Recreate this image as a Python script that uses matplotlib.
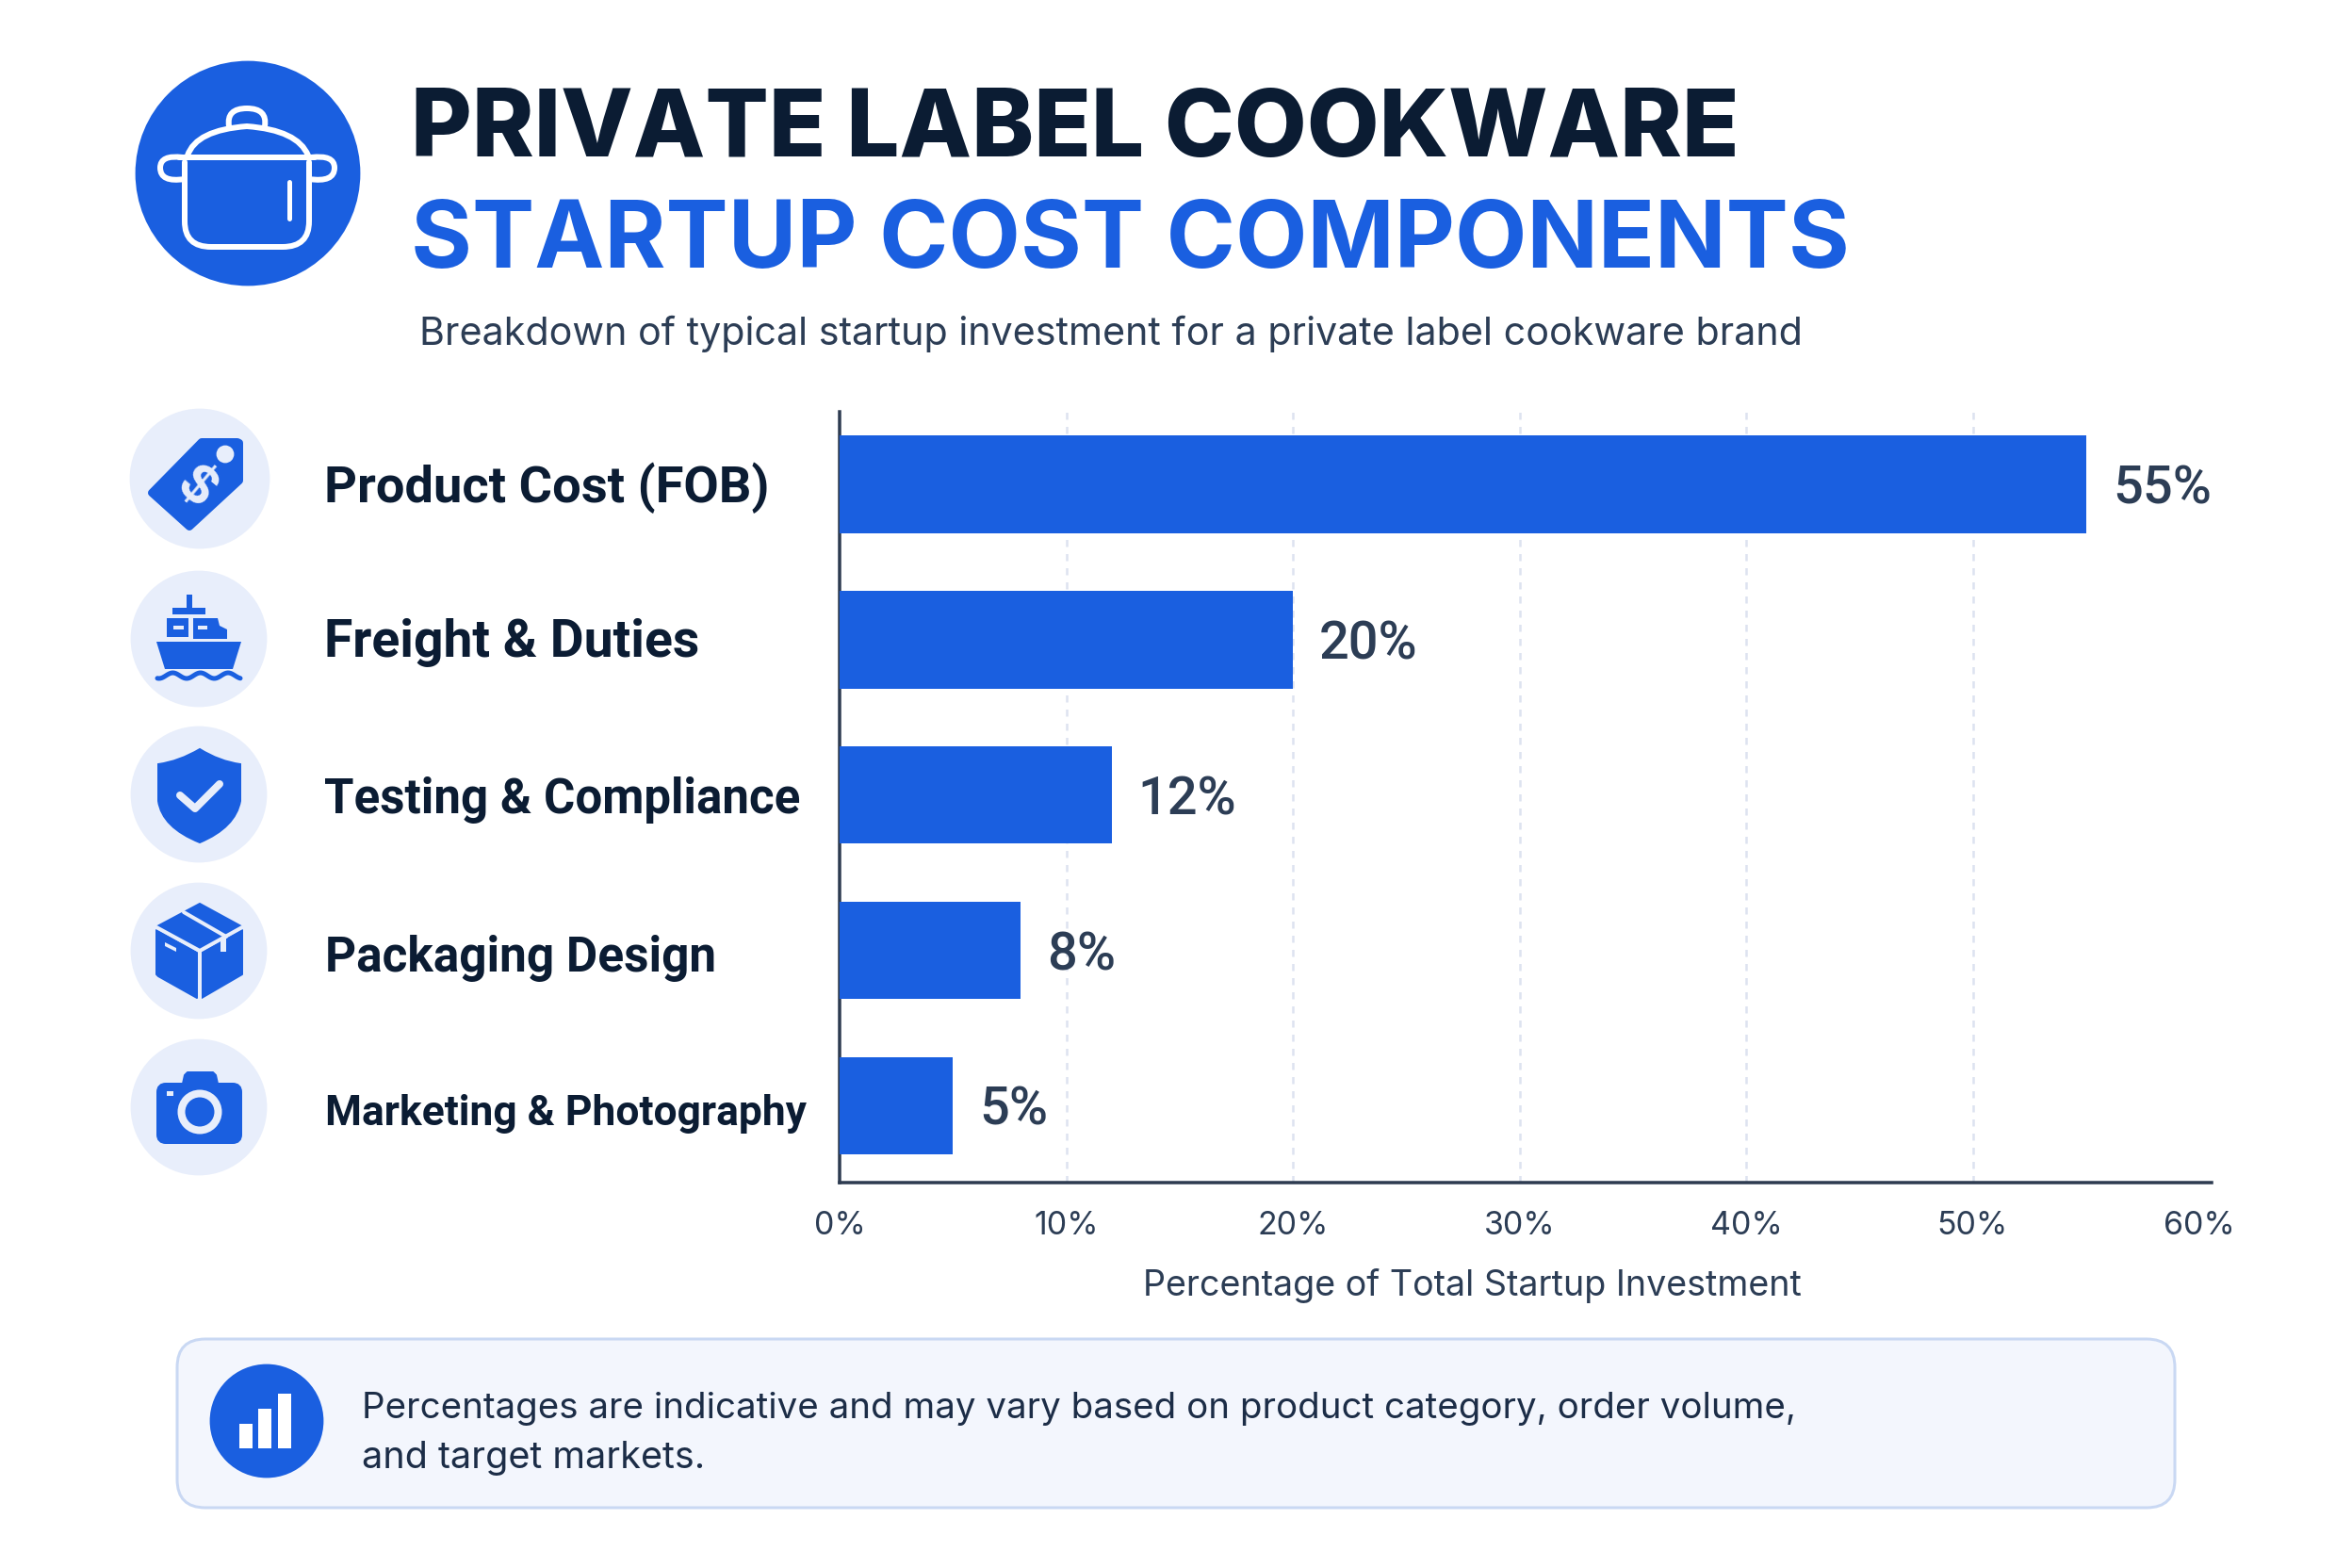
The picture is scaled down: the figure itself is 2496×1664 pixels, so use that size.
import numpy as np
import matplotlib
matplotlib.use('Agg')
import matplotlib.pyplot as plt
from matplotlib.patches import Circle, FancyBboxPatch, Polygon, Rectangle, PathPatch
from matplotlib.path import Path

categories = ['Product Cost (FOB)', 'Freight & Duties', 'Testing & Compliance',
              'Packaging Design', 'Marketing & Photography']
shares = [55, 20, 12, 8, 5]
x_ticks = [0, 10, 20, 30, 40, 50, 60]
title_top = 'PRIVATE LABEL COOKWARE'
title_bottom = 'STARTUP COST COMPONENTS'
subtitle = 'Breakdown of typical startup investment for a private label cookware brand'
x_title = 'Percentage of Total Startup Investment'
note_lines = ['Percentages are indicative and may vary based on product category, order volume,',
              'and target markets.']

BLUE = '#1a5fe0'
PALE = '#e8eefb'
DARK = '#0b1c33'
SLATE = '#2c3d55'

W, H = 2496, 1664
DPI = 200
plt.rcParams['font.family'] = ['Inter', 'DejaVu Sans']

def pt(px):
    # pixels to points at this dpi
    return px * 72 / DPI

fig = plt.figure(figsize=(W / DPI, H / DPI), dpi=DPI, facecolor='white')

# overlay in pixel coordinates for the header, icons and note
bg = fig.add_axes([0, 0, 1, 1])
bg.set_xlim(0, W)
bg.set_ylim(H, 0)
bg.axis('off')

def fit_width(t, width):
    # rescale a text so that it spans the wanted width in pixels
    size = t.get_fontsize()
    measured = t.get_window_extent(fig.canvas.get_renderer()).width
    t.set_fontsize(size * width / measured)

def poly(points, color=BLUE, round_px=0):
    bg.add_patch(Polygon(points, closed=True, facecolor=color, edgecolor=color,
                         lw=pt(round_px), joinstyle='round', zorder=3))

def rect(x0, y0, x1, y1, color=BLUE):
    bg.add_patch(Rectangle((x0, y0), x1 - x0, y1 - y0, facecolor=color, edgecolor='none', zorder=4))

def stroke(verts, codes=None, color='white', width=6, z=5):
    bg.add_patch(PathPatch(Path(verts, codes), facecolor='none', edgecolor=color, lw=pt(width),
                           capstyle='round', joinstyle='round', zorder=z))

def pot_icon():
    bg.add_patch(Circle((263, 184), 118, color=BLUE, zorder=2))
    C3, L, M = Path.CURVE3, Path.LINETO, Path.MOVETO
    # body
    stroke([(196, 172), (196, 235), (196, 262), (224, 262), (300, 262), (328, 262), (328, 235), (328, 172)],
           [M, L, C3, C3, L, C3, C3, L])
    # rim line
    stroke([(190, 167), (334, 167)], [M, L])
    # lid
    stroke([(199, 165), (208, 138), (262, 134), (316, 138), (327, 165)], [M, C3, C3, C3, C3])
    # knob
    stroke([(243, 134), (240, 115), (262, 115), (284, 115), (281, 134)], [M, C3, C3, C3, C3])
    # handles
    stroke([(194, 167), (170, 164), (170, 178), (170, 194), (196, 190)], [M, C3, C3, C3, C3])
    stroke([(330, 167), (355, 164), (355, 178), (355, 194), (328, 190)], [M, C3, C3, C3, C3])
    # highlight
    stroke([(307, 193), (307, 232)], [M, L], width=5)

def tag_icon(cx, cy):
    bg.add_patch(Circle((cx, cy), 73, color=PALE, zorder=2))
    poly([(214, 469), (252, 469), (254, 470), (254, 510), (201, 559), (161, 523)], round_px=8)
    bg.add_patch(Circle((239, 482), 8, color=PALE, zorder=4))
    bg.text(208, 518, '$', color=PALE, fontsize=pt(54), fontweight='bold', rotation=-40,
            rotation_mode='anchor', ha='center', va='center', zorder=5)

def ship_icon(cx, cy):
    bg.add_patch(Circle((cx, cy), 71, color=PALE, zorder=2))
    rect(198, 631, 204, 648)
    rect(183, 645, 218, 652)
    rect(177, 656, 200, 676)
    poly([(205, 656), (231, 656), (233, 664), (241, 668), (241, 678), (205, 678)])
    rect(184, 664, 195, 668, PALE)
    rect(210, 664, 220, 668, PALE)
    poly([(166, 681), (256, 681), (247, 710), (175, 710)])
    xs = np.linspace(167, 255, 60)
    stroke(np.column_stack([xs, 717 + 3 * np.sin((xs - 167) / 88 * 2 * np.pi * 3 + 1.2)]),
           color=BLUE, width=5)

def shield_icon(cx, cy):
    bg.add_patch(Circle((cx, cy), 71, color=PALE, zorder=2))
    M, L, C3 = Path.MOVETO, Path.LINETO, Path.CURVE3
    verts = [(212, 795), (190, 808), (168, 811), (168, 850), (172, 878), (212, 894),
             (250, 878), (255, 850), (255, 811), (233, 808), (212, 795), (212, 795)]
    codes = [M, C3, C3, L, C3, C3, C3, C3, L, C3, C3, Path.CLOSEPOLY]
    bg.add_patch(PathPatch(Path(verts, codes), facecolor=BLUE, edgecolor=BLUE, lw=pt(2), zorder=3))
    stroke([(191, 844), (207, 858), (233, 832)], color=PALE, width=8)

def box_icon(cx, cy):
    bg.add_patch(Circle((cx, cy), 71, color=PALE, zorder=2))
    poly([(212, 959), (256, 983), (212, 1007), (167, 983)], round_px=2)
    poly([(166, 987), (209, 1011), (209, 1059), (168, 1036), (166, 1034)], round_px=2)
    poly([(214, 1011), (257, 987), (257, 1034), (214, 1059)], round_px=2)
    stroke([(166, 984), (212, 1009), (257, 984)], color=PALE, width=4)
    stroke([(212, 1009), (212, 1060)], color=PALE, width=4)
    stroke([(195, 968), (240, 994)], color=PALE, width=4)
    stroke([(212, 961), (240, 977)], color=BLUE, width=4)
    rect(234, 996, 240, 1010, PALE)
    poly([(175, 1000), (187, 1006), (187, 1010), (175, 1004)], color=PALE)

def camera_icon(cx, cy):
    bg.add_patch(Circle((cx, cy), 71, color=PALE, zorder=2))
    bg.add_patch(FancyBboxPatch((170, 1153), 83, 57, boxstyle='round,pad=0,rounding_size=6',
                                facecolor=BLUE, edgecolor=BLUE, lw=pt(8), zorder=3))
    poly([(194, 1150), (196, 1141), (199, 1138), (226, 1138), (229, 1141), (231, 1150)], round_px=2)
    bg.add_patch(Circle((212, 1180), 19.5, facecolor='none', edgecolor=PALE, lw=pt(8), zorder=4))
    rect(177, 1158, 184, 1163, PALE)

def note_box():
    bg.add_patch(FancyBboxPatch((188, 1421), 2120, 179, boxstyle='round,pad=0,rounding_size=30',
                                facecolor='#f3f6fd', edgecolor='#c9d8f3', lw=pt(3), zorder=1))
    bg.add_patch(Circle((283, 1508), 59, color=BLUE, zorder=2))
    rect(254, 1511, 268, 1537, 'white')
    rect(274, 1495, 288, 1537, 'white')
    rect(295, 1479, 309, 1537, 'white')

pot_icon()
tag_icon(212, 508)
ship_icon(211, 678)
shield_icon(211, 843)
box_icon(211, 1009)
camera_icon(211, 1175)
note_box()

# header
t1 = bg.text(436, 166, title_top, color=DARK, fontsize=pt(100), fontweight='heavy', va='baseline')
fit_width(t1, 1410)
t2 = bg.text(436, 284, title_bottom, color=BLUE, fontsize=pt(100), fontweight='bold', va='baseline')
fit_width(t2, 1528)
t3 = bg.text(445, 366, subtitle, color=SLATE, fontsize=pt(43), va='baseline')
fit_width(t3, 1468)

# row labels, narrower face since the reference glyphs are condensed
label_x = [344, 344, 344, 345, 345]
label_y = [533, 697, 863, 1031, 1194]
label_w = [473, 398, 505, 416, 511]
for name, lx, ly, lw in zip(categories, label_x, label_y, label_w):
    t = bg.text(lx, ly, name, color=DARK, fontsize=pt(54), fontweight='bold', family='Roboto',
                va='baseline')
    fit_width(t, lw)

# note text
for line, ly, lw in zip(note_lines, [1505, 1558], [1521, 365]):
    t = bg.text(384, ly, line, color='#1c2d47', fontsize=pt(38.6), va='baseline', zorder=6)
    fit_width(t, lw)

# bar chart
left, right, top, bottom = 891, 2347, 437, 1255
ax = fig.add_axes([left / W, 1 - bottom / H, (right - left) / W, (bottom - top) / H])
ax.patch.set_alpha(0)
y_pos = np.arange(len(shares))
ax.barh(y_pos, shares, height=0.63, color=BLUE, zorder=3)
ax.set_xlim(0, (right - left) / 24.05)
ax.set_ylim(4.494, -0.464)
ax.set_yticks([])
ax.set_xticks(x_ticks)
ax.set_xticklabels([f'{t}%' for t in x_ticks], fontsize=pt(34), color=SLATE)
ax.tick_params(axis='x', length=0, pad=pt(30))
ax.grid(axis='x', color='#dde3f0', lw=pt(2.5), ls=(0, (3, 3)), zorder=0)
for line in (ax.get_xgridlines()[0], ax.get_xgridlines()[-1]):
    line.set_visible(False)
for side in ['top', 'right']:
    ax.spines[side].set_visible(False)
for side in ['left', 'bottom']:
    ax.spines[side].set_color('#2d3b50')
    ax.spines[side].set_linewidth(pt(3.5))
ax.set_xlabel(x_title, fontsize=pt(37.7), color=SLATE, va='baseline')
ax.xaxis.set_label_coords((1562 - left) / (right - left), -(1375 - bottom) / (bottom - top))

for i, v in enumerate(shares):
    ax.annotate(f'{v}%', (v, i), xytext=(pt(28), -pt(5)), textcoords='offset points', va='center',
                fontsize=pt(56), fontweight='medium', family='Roboto', color=SLATE)

fig.savefig('out.png', dpi=DPI)
plt.close(fig)
